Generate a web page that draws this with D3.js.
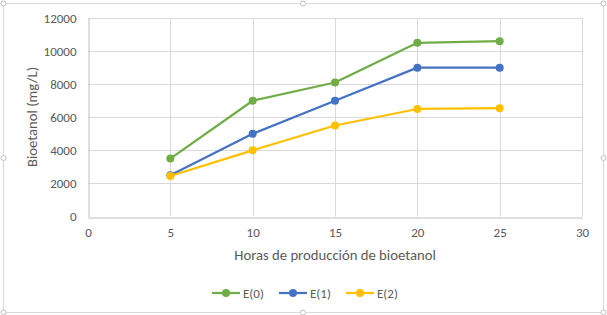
<!DOCTYPE html>
<html><head><meta charset="utf-8">
<script src="https://cdn.jsdelivr.net/npm/d3@7"></script>
<style>body{margin:0;background:#fff}svg{display:block;font-family:Carlito,Calibri,Lato,"Open Sans",sans-serif}</style>
</head><body><svg id="c" width="607" height="315"></svg>
<script>
const hours = [5, 10, 15, 20, 25];
const seriesNames = ["E(0)", "E(1)", "E(2)"];
const e0 = [3500, 7000, 8100, 10500, 10600];
const e1 = [2500, 5000, 7000, 9000, 9000];
const e2 = [2450, 4000, 5500, 6500, 6550];
const xTicks = [0, 5, 10, 15, 20, 25, 30];
const yTicks = [0, 2000, 4000, 6000, 8000, 10000, 12000];
const colors = ["#70ad47", "#4472c4", "#ffc000"];
const series = [e0, e1, e2];

const svg = d3.select("#c");
svg.append("rect").attr("x",3.5).attr("y",3.5).attr("width",600).attr("height",309)
  .attr("fill","#fff").attr("stroke","#d9d9d9");
const handles = [[3.5,3.5],[303,3.5],[603.5,3.5],[3.5,158],[603.5,158],[3.5,312.5],[303,312.5],[603.5,312.5]];
svg.selectAll("circle.h").data(handles).join("circle").attr("class","h")
  .attr("cx",d=>d[0]).attr("cy",d=>d[1]).attr("r",2.5).attr("fill","#fff").attr("stroke","#bfbfbf");

const x = d3.scaleLinear().domain([0,30]).range([88,582]);
const y = d3.scaleLinear().domain([0,12000]).range([216.5,18]);

const g = svg.append("g");
g.selectAll("line.hg").data(yTicks.slice(1)).join("line")
  .attr("x1",x(0)).attr("x2",x(30)).attr("y1",d=>Math.round(y(d))+0.5).attr("y2",d=>Math.round(y(d))+0.5)
  .attr("stroke","#d9d9d9").attr("stroke-width",1);
g.selectAll("line.vg").data(xTicks.slice(1)).join("line")
  .attr("y1",y(0)).attr("y2",y(12000)).attr("x1",d=>Math.round(x(d))+0.5).attr("x2",d=>Math.round(x(d))+0.5)
  .attr("stroke","#d9d9d9").attr("stroke-width",1);

const xa = svg.append("g").attr("transform",`translate(0,${Math.round(y(0))+0.5})`)
  .call(d3.axisBottom(x).tickValues(xTicks).tickSize(0).tickPadding(10));
xa.select(".domain").attr("stroke","#bfbfbf");
const ya = svg.append("g").attr("transform",`translate(${Math.round(x(0))+0.5},0)`)
  .call(d3.axisLeft(y).tickValues(yTicks).tickSize(0).tickPadding(12).tickFormat(d3.format("d")));
ya.select(".domain").attr("stroke","#bfbfbf");
svg.selectAll(".tick text").attr("fill","#595959").attr("font-size",13).attr("font-family","Carlito,Calibri,Lato,sans-serif");

svg.append("text").attr("x",335).attr("y",260).attr("text-anchor","middle")
  .attr("fill","#595959").attr("font-size",14.7).text("Horas de producción de bioetanol");
svg.append("text").attr("transform","translate(37,117) rotate(-90)").attr("text-anchor","middle")
  .attr("fill","#595959").attr("font-size",14.7).text("Bioetanol (mg/L)");

const line = d3.line().x((d,i)=>x(hours[i])).y(d=>y(d));
series.forEach((s,k)=>{
  svg.append("path").datum(s).attr("d",line).attr("fill","none")
    .attr("stroke",colors[k]).attr("stroke-width",2.25).attr("stroke-linejoin","round");
  svg.selectAll(null).data(s).join("circle").attr("cx",(d,i)=>x(hours[i])).attr("cy",d=>y(d))
    .attr("r",4).attr("fill",colors[k]);
});

const lx = [212, 279, 346];
seriesNames.forEach((n,k)=>{
  const lg = svg.append("g").attr("transform",`translate(${lx[k]},293)`);
  lg.append("line").attr("x1",0).attr("x2",28).attr("stroke",colors[k]).attr("stroke-width",2.25);
  lg.append("circle").attr("cx",14).attr("r",4).attr("fill",colors[k]);
  lg.append("text").attr("x",31).attr("y",4.5).attr("fill","#595959").attr("font-size",13).text(n);
});
</script></body></html>
